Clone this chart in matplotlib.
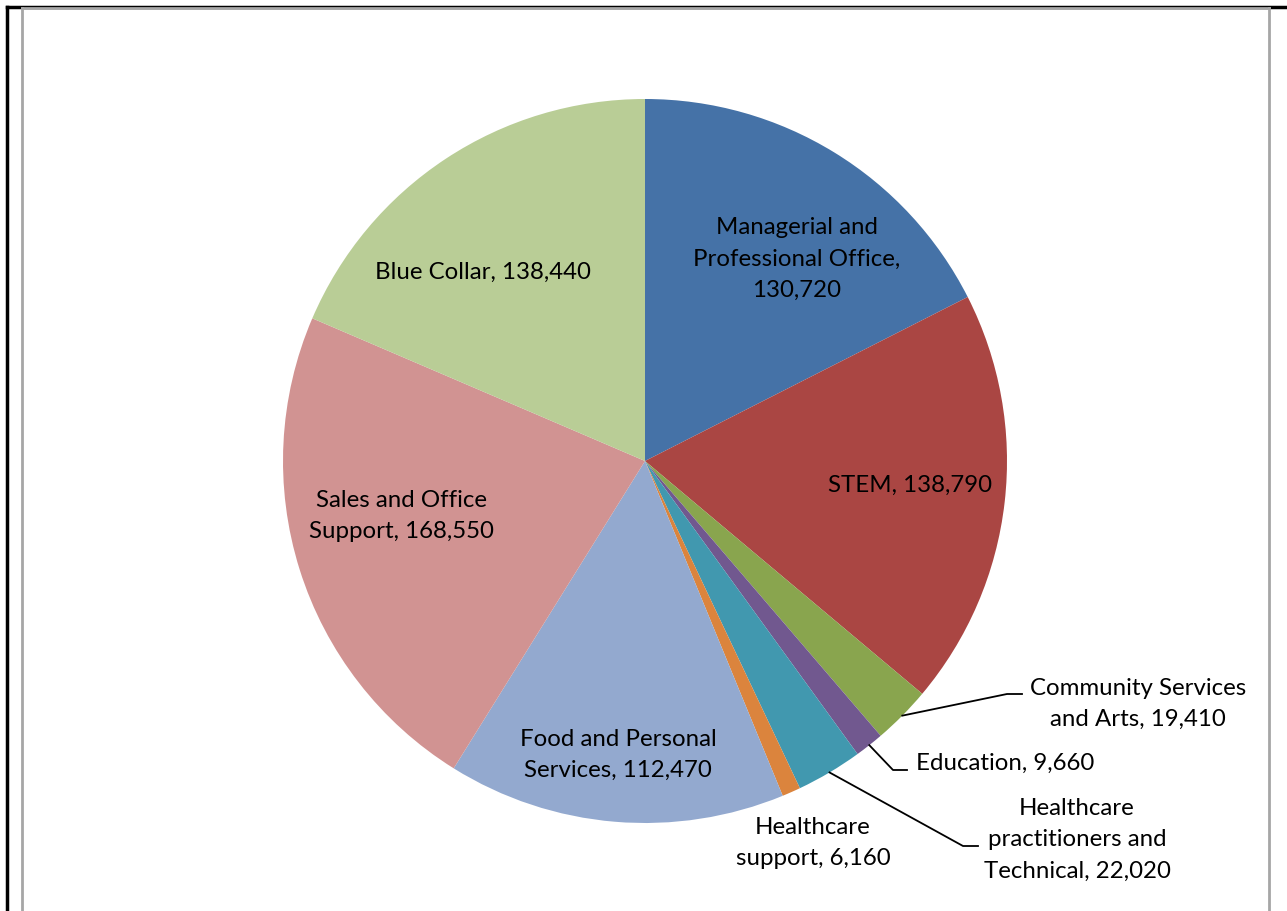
import matplotlib
matplotlib.use("Agg")
import matplotlib.pyplot as plt
import numpy as np
from matplotlib.lines import Line2D

categories = ["Managerial and Professional Office", "STEM", "Community Services and Arts",
              "Education", "Healthcare practitioners and Technical", "Healthcare support",
              "Food and Personal Services", "Sales and Office Support", "Blue Collar"]
values = [130720, 138790, 19410, 9660, 22020, 6160, 112470, 168550, 138440]
colors = ["#4572A7", "#AA4643", "#89A54E", "#71588F", "#4198AF", "#DB843D",
          "#93A9CF", "#D19392", "#B9CD96"]
# label text, with line breaks as in the reference
texts = [
    "Managerial and\nProfessional Office,\n130,720",
    "STEM, 138,790",
    "Community Services\nand Arts, 19,410",
    "Education, 9,660",
    "Healthcare\npractitioners and\nTechnical, 22,020",
    "Healthcare\nsupport, 6,160",
    "Food and Personal\nServices, 112,470",
    "Sales and Office\nSupport, 168,550",
    "Blue Collar, 138,440",
]

W, H = 1287, 911
plt.rcParams['font.family'] = ['Lato', 'DejaVu Sans']
fig = plt.figure(figsize=(W / 100, H / 100), dpi=100)
ax = fig.add_axes([0, 0, 1, 1])

cx, cy, R = 645, H - 461, 362

wedges, _ = ax.pie(values, colors=colors, startangle=90, counterclock=False,
                   center=(cx, cy), radius=R, wedgeprops=dict(linewidth=0),
                   frame=True)
ax.set_xlim(0, W)
ax.set_ylim(0, H)
ax.set_aspect("equal")
ax.axis("off")

fs = 17.3

# label positions (pixel coords, y from top)
label_pos = [
    (797, 259),
    (910, 485),
    (1138, 704),
    (1005, 763),
    (1077, 840),
    (813, 843),
    (618, 755),
    (401, 516),
    (483, 272),
]

for t, (x, y) in zip(texts, label_pos):
    ax.text(x, H - y, t, ha="center", va="center", fontsize=fs, color="black",
            linespacing=1.6, multialignment="center")

# leader lines: start on wedge edge at mid angle, elbow, end
leaders = {
    2: [(1007, 694), (1022, 694)],
    3: [(893, 770), (907, 770)],
    4: [(963, 846), (978, 846)],
}
for i, pts in leaders.items():
    w = wedges[i]
    mid = np.deg2rad((w.theta1 + w.theta2) / 2)
    sx, sy = cx + R * np.cos(mid), cy + R * np.sin(mid)
    xs = [sx] + [p[0] for p in pts]
    ys = [sy] + [H - p[1] for p in pts]
    ax.add_line(Line2D(xs, ys, color="black", lw=1.3))

# frame lines
ax.add_line(Line2D([7, 7], [0, H - 7], color="black", lw=2.5))
ax.add_line(Line2D([7, W], [H - 7, H - 7], color="black", lw=2.5))
ax.add_line(Line2D([22, 22], [0, H - 8], color="#a6a6a6", lw=2))
ax.add_line(Line2D([22, 1269], [H - 8, H - 8], color="#a6a6a6", lw=2))
ax.add_line(Line2D([1269, 1269], [0, H - 8], color="#a6a6a6", lw=2))

fig.savefig("out.png", dpi=100)
